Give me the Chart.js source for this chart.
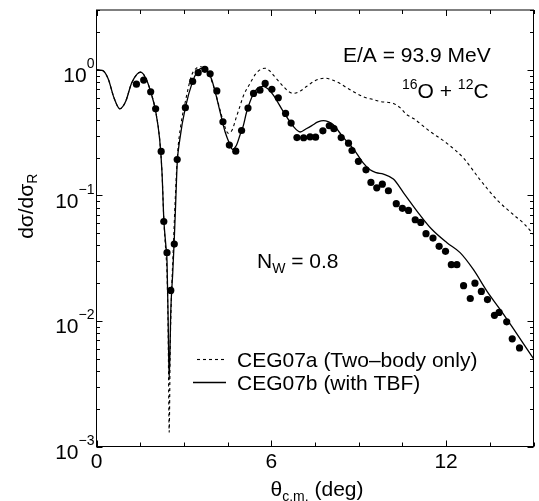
<!DOCTYPE html>
<html>
<head>
<meta charset="utf-8">
<script src="https://cdn.jsdelivr.net/npm/chart.js@4.4.0/dist/chart.umd.min.js"></script>
<style>
  html, body { margin: 0; padding: 0; background: #fff; }
  #wrap { width: 539px; height: 501px; }
</style>
</head>
<body>
<div id="wrap"><canvas id="xsecChart" width="539" height="501"></canvas></div>
<script>
// measured ratio to Rutherford, 16O + 12C at E/A = 93.9 MeV
var expAngle = [1.37, 1.62, 1.86, 2.03, 2.22, 2.31, 2.42, 2.55, 2.67, 2.77,
  3.05, 3.30, 3.49, 3.72, 3.90, 4.13, 4.34, 4.56, 4.78, 4.98,
  5.20, 5.39, 5.61, 5.79, 6.02, 6.24, 6.49, 6.68, 6.88, 7.11,
  7.33, 7.52, 7.77, 7.99, 8.15, 8.40, 8.65, 8.77, 8.99, 9.25,
  9.42, 9.62, 9.81, 10.02, 10.29, 10.50, 10.71, 10.94, 11.13, 11.31,
  11.55, 11.76, 11.98, 12.18, 12.37, 12.60, 12.83, 12.99, 13.21, 13.42,
  13.66, 13.82, 14.08, 14.27, 14.52];
var expRatio = [0.77, 0.83, 0.67, 0.49, 0.224, 0.062, 0.035, 0.0175, 0.041, 0.193,
  0.50, 0.81, 0.95, 1.01, 0.93, 0.68, 0.386, 0.252, 0.225, 0.329,
  0.496, 0.65, 0.69, 0.78, 0.70, 0.60, 0.45, 0.377, 0.289, 0.288,
  0.293, 0.291, 0.327, 0.359, 0.340, 0.289, 0.261, 0.228, 0.187, 0.160,
  0.127, 0.115, 0.123, 0.109, 0.0859, 0.079, 0.076, 0.064, 0.061, 0.0496,
  0.0457, 0.0393, 0.0359, 0.0281, 0.0281, 0.0191, 0.0151, 0.020, 0.0172, 0.0148,
  0.0111, 0.0117, 0.00984, 0.0072, 0.0061];

// CEG07b (with TBF)
var tbfAngle = [0, 0.2, 0.4, 0.6, 0.8, 1.0, 1.2, 1.4, 1.52, 1.7,
  1.86, 2.03, 2.17, 2.25, 2.31, 2.38, 2.42, 2.46, 2.495, 2.55,
  2.62, 2.67, 2.72, 2.77, 2.86, 3.05, 3.30, 3.45, 3.6, 3.75,
  3.9, 4.01, 4.24, 4.41, 4.58, 4.66, 4.8, 4.92, 5.04, 5.15,
  5.38, 5.55, 5.72, 5.9, 6.07, 6.41, 6.76, 6.99, 7.2, 7.39,
  7.6, 7.79, 7.97, 8.13, 8.47, 8.82, 9.16, 9.39, 9.6, 9.85,
  10.19, 10.54, 11.1, 11.5, 12.03, 12.48, 12.94, 13.4, 13.86, 14.32,
  15];
var tbfRatio = [1.0, 0.99, 0.85, 0.6, 0.49, 0.56, 0.78, 0.93, 0.96, 0.85,
  0.67, 0.47, 0.277, 0.15, 0.065, 0.04, 0.03, 0.01, 0.0034, 0.012,
  0.025, 0.045, 0.09, 0.18, 0.28, 0.5, 0.81, 0.96, 1.03, 1.0,
  0.9, 0.76, 0.466, 0.323, 0.254, 0.233, 0.25, 0.3, 0.36, 0.46,
  0.64, 0.72, 0.74, 0.70, 0.63, 0.466, 0.354, 0.32, 0.34, 0.36,
  0.385, 0.395, 0.385, 0.365, 0.29, 0.235, 0.181, 0.16, 0.152, 0.148,
  0.135, 0.105, 0.07, 0.054, 0.042, 0.035, 0.0256, 0.0173, 0.0123, 0.0086,
  0.005];

// CEG07a (two-body only)
var twoAngle = [0, 0.2, 0.4, 0.6, 0.8, 1.0, 1.2, 1.4, 1.52, 1.7,
  1.86, 2.03, 2.17, 2.25, 2.31, 2.38, 2.42, 2.46, 2.495, 2.53,
  2.57, 2.63, 2.70, 2.78, 2.9, 3.05, 3.26, 3.45, 3.58, 3.75,
  3.9, 4.05, 4.24, 4.41, 4.52, 4.65, 4.8, 4.92, 5.04, 5.27,
  5.45, 5.61, 5.78, 5.95, 6.07, 6.41, 6.6, 6.76, 6.95, 7.22,
  7.5, 7.85, 8.1, 8.36, 8.59, 8.82, 9.16, 9.5, 9.74, 10.19,
  10.42, 10.65, 10.88, 11.45, 12.03, 12.6, 13.17, 13.75, 14.32, 14.66,
  15];
var twoRatio = [1.0, 0.99, 0.85, 0.6, 0.49, 0.56, 0.78, 0.93, 0.96, 0.85,
  0.67, 0.47, 0.277, 0.15, 0.065, 0.035, 0.024, 0.008, 0.0013, 0.006,
  0.015, 0.035, 0.09, 0.21, 0.37, 0.56, 0.9, 1.04, 1.06, 1.0,
  0.88, 0.7, 0.48, 0.35, 0.313, 0.33, 0.42, 0.51, 0.62, 0.78,
  0.92, 1.0, 1.03, 0.98, 0.91, 0.74, 0.67, 0.65, 0.67, 0.74,
  0.82, 0.86, 0.83, 0.78, 0.72, 0.67, 0.61, 0.58, 0.56, 0.54,
  0.50, 0.44, 0.41, 0.323, 0.26, 0.198, 0.133, 0.092, 0.070, 0.060,
  0.049];

var xLabelTicks = [0, 6, 12];
var yDecades = [-3, -2, -1, 0];

var FONT = '"Liberation Sans", Arial, Helvetica, sans-serif';

function pairs(xs, ys) {
  return xs.map(function(x, i) { return {x: x, y: ys[i]}; });
}

// draws box, inward ticks, tick labels, axis titles, notes and legend
var decor = {
  id: 'decor',
  afterDraw: function(chart) {
    var ctx = chart.ctx, a = chart.chartArea;
    var xs = chart.scales.x, ys = chart.scales.y;
    ctx.save();
    ctx.strokeStyle = '#000';
    ctx.fillStyle = '#000';
    ctx.lineWidth = 1;
    ctx.strokeRect(a.left, a.top, a.right - a.left, a.bottom - a.top);

    function seg(x1, y1, x2, y2) {
      ctx.beginPath(); ctx.moveTo(x1, y1); ctx.lineTo(x2, y2); ctx.stroke();
    }

    // x ticks every 1.5 deg
    for (var i = 0; i <= 10; i++) {
      var v = i * 1.5;
      var px = Math.round(xs.getPixelForValue(v)) + 0.5;
      var len = xLabelTicks.indexOf(v) >= 0 ? 6 : 4;
      seg(px, a.bottom, px, a.bottom - len);
      seg(px, a.top, px, a.top + len);
    }
    // y ticks, log decades
    yDecades.forEach(function(d) {
      for (var k = 1; k <= 9; k++) {
        var val = k * Math.pow(10, d);
        if (val > ys.max) break;
        var py = Math.round(ys.getPixelForValue(val)) + 0.5;
        var len = k === 1 ? 6 : 3.5;
        seg(a.left, py, a.left + len, py);
        seg(a.right, py, a.right - len, py);
      }
    });

    // x tick labels
    ctx.font = '21px ' + FONT;
    ctx.textAlign = 'center';
    ctx.textBaseline = 'alphabetic';
    xLabelTicks.forEach(function(v) {
      ctx.fillText(String(v), xs.getPixelForValue(v), a.bottom + 21);
    });

    // y tick labels 10^d
    ctx.textAlign = 'left';
    yDecades.forEach(function(d) {
      var py = ys.getPixelForValue(Math.pow(10, d));
      var exp = d < 0 ? '\u2212' + (-d) : String(d);
      ctx.font = '21px ' + FONT;
      var w1 = ctx.measureText('10').width;
      ctx.font = '14px ' + FONT;
      var w2 = ctx.measureText(exp).width;
      var x0 = a.left - 2 - w1 - w2;
      ctx.font = '21px ' + FONT;
      ctx.fillText('10', x0, py + 12.5);
      ctx.font = '14px ' + FONT;
      ctx.fillText(exp, x0 + w1, py - 1.5);
    });

    // x axis title
    ctx.font = '21px ' + FONT;
    var wt = ctx.measureText('\u03b8').width;
    var wd = ctx.measureText(' (deg)').width;
    ctx.font = '14px ' + FONT;
    var wc = ctx.measureText('c.m.').width;
    var xt = (a.left + a.right) / 2 + 2 - (wt + wc + wd) / 2;
    ctx.font = '21px ' + FONT;
    ctx.fillText('\u03b8', xt, 496);
    ctx.fillText(' (deg)', xt + wt + wc, 496);
    ctx.font = '14px ' + FONT;
    ctx.fillText('c.m.', xt + wt, 501);

    // y axis title, rotated
    ctx.save();
    ctx.translate(33, (a.top + a.bottom) / 2 - 22);
    ctx.rotate(-Math.PI / 2);
    ctx.font = '21px ' + FONT;
    var wy = ctx.measureText('d\u03c3/d\u03c3').width;
    ctx.font = '14px ' + FONT;
    var wr = ctx.measureText('R').width;
    var sx = -(wy + wr) / 2;
    ctx.font = '21px ' + FONT;
    ctx.fillText('d\u03c3/d\u03c3', sx, 0);
    ctx.font = '14px ' + FONT;
    ctx.fillText('R', sx + wy, 4);
    ctx.restore();

    // notes
    ctx.font = '21px ' + FONT;
    ctx.fillText('E/A = 93.9 MeV', 343, 62);

    var nx = 402;
    ctx.font = '14px ' + FONT;
    ctx.fillText('16', nx, 89);
    nx += ctx.measureText('16').width;
    ctx.font = '21px ' + FONT;
    ctx.fillText('O + ', nx, 98);
    nx += ctx.measureText('O + ').width;
    ctx.font = '14px ' + FONT;
    ctx.fillText('12', nx, 89);
    nx += ctx.measureText('12').width;
    ctx.font = '21px ' + FONT;
    ctx.fillText('C', nx, 98);

    var wx = 257;
    ctx.font = '21px ' + FONT;
    ctx.fillText('N', wx, 268);
    wx += ctx.measureText('N').width;
    ctx.font = '14px ' + FONT;
    ctx.fillText('W', wx, 273);
    wx += ctx.measureText('W').width;
    ctx.font = '21px ' + FONT;
    ctx.fillText(' = 0.8', wx, 268);

    // legend
    var dsA = chart.data.datasets[2], dsB = chart.data.datasets[1];
    ctx.lineWidth = dsA.borderWidth;
    ctx.setLineDash(dsA.borderDash);
    seg(197, 359.5, 226, 359.5);
    ctx.lineWidth = dsB.borderWidth;
    ctx.setLineDash([]);
    seg(193, 382.5, 226, 382.5);
    ctx.font = '21px ' + FONT;
    ctx.fillText(dsA.label, 237, 367);
    ctx.fillText(dsB.label, 237, 390);
    ctx.restore();
  }
};

window.onload = function() {
  var ctx = document.getElementById('xsecChart').getContext('2d');
  var chart = new Chart(ctx, {
    type: 'scatter',
    data: {
      datasets: [{
        label: 'Data',
        data: pairs(expAngle, expRatio),
        showLine: false,
        pointRadius: 3.6,
        pointBackgroundColor: '#000',
        pointBorderColor: '#000',
        pointBorderWidth: 0
      }, {
        label: 'CEG07b (with TBF)',
        data: pairs(tbfAngle, tbfRatio),
        showLine: true,
        borderColor: '#000',
        borderWidth: 1.3,
        pointRadius: 0,
        cubicInterpolationMode: 'monotone'
      }, {
        label: 'CEG07a (Two\u2013body only)',
        data: pairs(twoAngle, twoRatio),
        showLine: true,
        borderColor: '#000',
        borderWidth: 1.1,
        borderDash: [3, 3],
        pointRadius: 0,
        cubicInterpolationMode: 'monotone'
      }]
    },
    options: {
      responsive: false,
      animation: false,
      events: [],
      layout: { padding: { left: 96.5, right: 5.5, top: 10, bottom: 54.5 } },
      scales: {
        x: { type: 'linear', min: 0, max: 15, display: false },
        y: { type: 'logarithmic', min: 0.001, max: 3, display: false }
      },
      plugins: {
        legend: { display: false },
        tooltip: { enabled: false }
      }
    },
    plugins: [decor]
  });
};
</script>
</body>
</html>
